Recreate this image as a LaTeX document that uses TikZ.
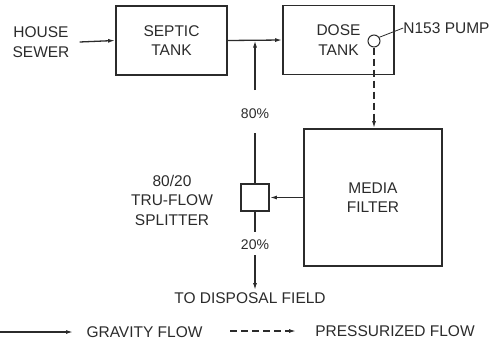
\documentclass[tikz,border=0pt]{standalone}
\usepackage{fontspec}
\setmainfont{Liberation Sans}
\usetikzlibrary{arrows.meta}
\definecolor{ink}{HTML}{2B2B2B}

\begin{document}
\begin{tikzpicture}[x=1pt,y=-1pt,font=\fontsize{15.5}{19.5}\selectfont,
  tank/.style={draw=ink,line width=1.8pt,minimum width=111pt,minimum height=69pt,align=center,text=ink},
  flow/.style={draw=ink,line width=1.3pt,-{Latex[length=7pt,width=4pt]}},
  pflow/.style={flow,dash pattern=on 7pt off 4pt},
  lbl/.style={inner sep=0pt,align=center,text=ink},
  pct/.style={lbl,font=\fontsize{14}{16}\selectfont}]
 \useasboundingbox (0,0) rectangle (492,343);
 % tanks and boxes
 \node[lbl] (house) at (41,42) {HOUSE\\SEWER};
 \node[tank] (septic) at (171.5,40.5) {SEPTIC\\TANK};
 \node[tank] (dose) at (338.5,40) {DOSE\\TANK};
 \node[tank,minimum width=138pt,minimum height=137pt] (filter) at (373,197.5) {MEDIA\\FILTER};
 \node[draw=ink,line width=1.8pt,minimum width=28pt,minimum height=27pt,inner sep=0pt] (splitter) at (255,197.5) {};
 \node[lbl] (splitlabel) at (172,200) {80/20\\TRU-FLOW\\SPLITTER};
 \node[circle,draw=ink,line width=1pt,fill=white,minimum size=12pt,inner sep=0pt] (pump) at (374,41) {};
 \node[lbl] (pumplabel) at (446.5,28) {N153 PUMP};
 \node[pct] (p80) at (255,114) {80\%};
 \node[pct] (p20) at (255,245) {20\%};
 \node[lbl] (disposal) at (250,298) {TO DISPOSAL FIELD};
 % flows
 \coordinate (tee) at (splitter.north |- septic.east);
 \coordinate (up80) at (255,90);
 \coordinate (lo80) at (255,133);
 \coordinate (up20) at (255,232);
 \coordinate (lo20) at (255,255);
 \coordinate (field) at (255,290);
 \draw[flow] ([xshift=10pt]house.east) -- (septic.west);
 \draw[flow] (septic.east) -- (dose.west);
 \draw[flow] (up80) -- (tee);
 \draw[ink,line width=1.3pt] (splitter.north) -- (lo80);
 \draw[flow] (filter.west) -- (splitter.east);
 \draw[ink,line width=1.3pt] (splitter.south) -- (up20);
 \draw[flow] (lo20) -- (field);
 \draw[pflow] (pump.south) -- (filter.north -| pump.south);
 \draw[ink,line width=0.8pt] (pump.35) -- (pumplabel.west);
 % legend
 \coordinate (g0) at (0,332);
 \coordinate (g1) at (73,332);
 \coordinate (d0) at (230,331);
 \coordinate (d1) at (296,331);
 \node[lbl] (gravity) at (144.5,332) {GRAVITY FLOW};
 \node[lbl] (pressure) at (395,331) {PRESSURIZED FLOW};
 \draw[flow] (g0) -- (g1);
 \draw[pflow] (d0) -- (d1);
\end{tikzpicture}
\end{document}
